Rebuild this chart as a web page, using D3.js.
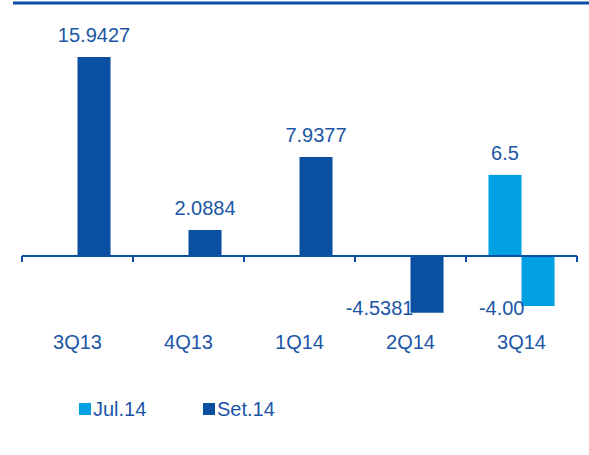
<!DOCTYPE html>
<html>
<head>
<meta charset="utf-8">
<script src="https://cdn.jsdelivr.net/npm/d3@7"></script>
<style>
  body { margin: 0; background: #fff; }
  text { font-family: Arial, "Liberation Sans", sans-serif; }
</style>
</head>
<body>
<script>
// chart data
var quarters = ['3Q13', '4Q13', '1Q14', '2Q14', '3Q14'];
var seriesNames = ['Jul.14', 'Set.14'];
var julValues = [null, null, null, null, 6.5];
var setValues = [15.9427, 2.0884, 7.9377, -4.5381, -4.00];
var julLabels = [null, null, null, null, '6.5'];
var setLabels = ['15.9427', '2.0884', '7.9377', '-4.5381', '-4.00'];
// the last Set.14 bar is drawn in the light colour in the original
var setHighlight = [false, false, false, false, true];

var width = 589, height = 455;
var darkBlue = '#0b4fa3';
var lightBlue = '#00a0e3';
var textColor = '#1b56a5';
var fontSize = 20;

var svg = d3.select('body')
  .append('svg')
    .attr('width', width)
    .attr('height', height);

// top rule
svg.append('line')
  .attr('x1', 13).attr('x2', width)
  .attr('y1', 3).attr('y2', 3)
  .attr('stroke', darkBlue)
  .attr('stroke-width', 3);

var x = d3.scaleBand()
  .domain(quarters)
  .range([22, 577])
  .paddingInner(0)
  .paddingOuter(0);

var xInner = d3.scaleBand()
  .domain(seriesNames)
  .range([0, x.bandwidth()])
  .paddingInner(0)
  .paddingOuter(0.68);

var y = d3.scaleLinear()
  .domain([-4.6, 15.9427])
  .range([313.5, 57]);

var rows = [];
quarters.forEach(function(q, i) {
  rows.push({q: q, s: 'Jul.14', v: julValues[i], label: julLabels[i], color: lightBlue});
  rows.push({q: q, s: 'Set.14', v: setValues[i], label: setLabels[i],
             color: setHighlight[i] ? lightBlue : darkBlue});
});
rows = rows.filter(function(d) { return d.v !== null; });

svg.selectAll('rect.bar')
  .data(rows)
  .enter()
  .append('rect')
    .attr('class', 'bar')
    .attr('x', function(d) { return x(d.q) + xInner(d.s); })
    .attr('width', xInner.bandwidth())
    .attr('y', function(d) { return Math.min(y(d.v), y(0)); })
    .attr('height', function(d) { return Math.abs(y(d.v) - y(0)); })
    .attr('fill', function(d) { return d.color; });

// zero axis with ticks between categories
var axis = svg.append('g')
  .attr('transform', 'translate(0,' + y(0) + ')');
axis.append('line')
  .attr('x1', 22).attr('x2', 577)
  .attr('stroke', darkBlue).attr('stroke-width', 2);
axis.selectAll('line.tick')
  .data(quarters.concat(['end']))
  .enter()
  .append('line')
    .attr('class', 'tick')
    .attr('x1', function(d, i) { return i < quarters.length ? x(d) : 577; })
    .attr('x2', function(d, i) { return i < quarters.length ? x(d) : 577; })
    .attr('y1', 0).attr('y2', 6)
    .attr('stroke', darkBlue).attr('stroke-width', 2);

// category labels
svg.selectAll('text.cat')
  .data(quarters)
  .enter()
  .append('text')
    .attr('class', 'cat')
    .attr('x', function(d) { return x(d) + x.bandwidth() / 2; })
    .attr('y', 349)
    .attr('text-anchor', 'middle')
    .attr('fill', textColor)
    .attr('font-size', fontSize)
    .text(function(d) { return d; });

// value labels
svg.selectAll('text.val')
  .data(rows)
  .enter()
  .append('text')
    .attr('class', 'val')
    .attr('x', function(d) {
      var bx = x(d.q) + xInner(d.s);
      return d.v >= 0 ? bx + xInner.bandwidth() / 2 : bx + 3;
    })
    .attr('y', function(d) { return d.v >= 0 ? y(d.v) - 15 : 315; })
    .attr('text-anchor', function(d) { return d.v >= 0 ? 'middle' : 'end'; })
    .attr('fill', textColor)
    .attr('font-size', fontSize)
    .text(function(d) { return d.label; });

// legend
var legend = svg.selectAll('g.legend')
  .data(seriesNames)
  .enter()
  .append('g')
    .attr('class', 'legend')
    .attr('transform', function(d, i) { return 'translate(' + (79 + i * 124) + ',403)'; });
legend.append('rect')
  .attr('width', 12).attr('height', 12)
  .attr('fill', function(d, i) { return i === 0 ? lightBlue : darkBlue; });
legend.append('text')
  .attr('x', 14).attr('y', 13)
  .attr('fill', textColor)
  .attr('font-size', fontSize)
  .text(function(d) { return d; });
</script>
</body>
</html>
